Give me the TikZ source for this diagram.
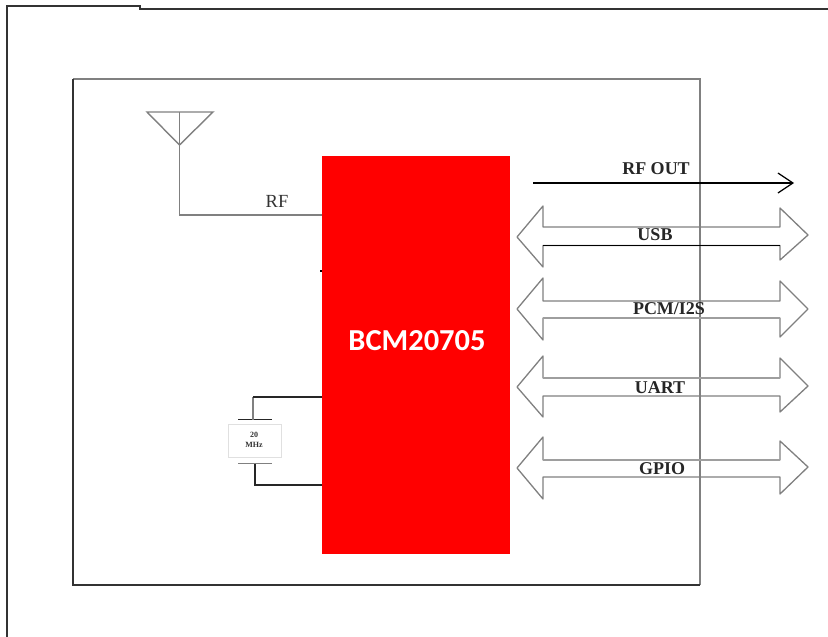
\documentclass[tikz,border=0pt]{standalone}
\usepackage{fontspec}
\setmainfont{Liberation Serif}
\newfontfamily\chipfont{Carlito}
\usetikzlibrary{arrows.meta}
\definecolor{linedark}{gray}{0.2}
\definecolor{linemid}{gray}{0.5}
\definecolor{linelight}{gray}{0.62}
\tikzset{
  x=1pt,y=-1pt,
  frameline/.style={draw=linedark,line width=2pt},
  frametwo/.style={draw=linemid,line width=1.8pt},
  wire/.style={draw=black!85,line width=1.6pt},
  thinwire/.style={draw=linemid,line width=1.4pt},
  busline/.style={draw=linemid,line width=1.3pt,line join=round},
  lab/.style={inner sep=0pt,font=\fontsize{18.5}{18}\selectfont,text=black!80},
  labbold/.style={inner sep=0pt,font=\fontsize{18}{18}\selectfont\bfseries,text=black!85},
}
\newcommand{\busarrow}[8]{%
  \draw[busline] (543,#1) -- (517,#2) -- (543,#3) -- (543,#5) -- (780,#5)
     -- (780,#8) -- (808,#7) -- (780,#6) -- (780,#4) -- (543,#4) -- cycle;}
\begin{document}
\begin{tikzpicture}
\useasboundingbox (0,0) rectangle (828,637);
\fill[white] (0,0) rectangle (828,637);
% outer frame
\coordinate (fa) at (7,637); \coordinate (fb) at (7,6); \coordinate (fc) at (140,6);
\coordinate (fd) at (140,8.5); \coordinate (fe) at (828,8.5);
\draw[frameline] (fa) -- (fb) -- (fc) -- (fd) -- (fe);
% board
\coordinate (ba) at (73,79); \coordinate (bb) at (700,79);
\coordinate (bc) at (700,585); \coordinate (bd) at (73,585);
\draw[frametwo] (ba) -- (bb) -- (bc);
\draw[frameline] (bc) -- (bd) -- (ba);
% chip
\node[fill=red,minimum width=188pt,minimum height=398pt,inner sep=0pt,outer sep=0pt,anchor=north west] (chip) at (322,156) {};
\node[text=white,inner sep=0pt,font=\chipfont\bfseries\fontsize{30.5}{30}\selectfont] (chipname) at (417,341) {BCM20705};
% antenna
\coordinate (anta) at (147,112); \coordinate (antb) at (213,112);
\coordinate (antc) at (179.5,145); \coordinate (antt) at (179.5,112);
\coordinate (antk) at (179.5,215);
\draw[thinwire] (anta) -- (antb) -- (antc) -- cycle;
\draw[thinwire] (antt) -- (antk) -- (antk -| chip.west);
\node[lab] (rf) at (277,201) {RF};
% tick on chip
\coordinate (tick) at (320,271);
\draw[black,line width=1.2pt] (tick) -- (tick -| chip.west);
% crystal
\node[draw=black!12,line width=1pt,fill=white,minimum width=53pt,minimum height=33pt,inner sep=0pt] (xtal) at (254.5,440.5) {};
\node[inner sep=0pt,align=center,text=black!80,font=\fontsize{8}{9.5}\selectfont\bfseries] (xtaltext) at (254,440) {20\\MHz};
\coordinate (pta) at (238,419.5); \coordinate (ptb) at (272,419.5);
\coordinate (pbl) at (238,463.5); \coordinate (pbb) at (272,463.5);
\coordinate (wt) at (253,419.5); \coordinate (wtc) at (253,397);
\coordinate (wb) at (255,463.5); \coordinate (wbc) at (255,485);
\draw[wire] (pta) -- (ptb);
\draw[thinwire] (pbl) -- (pbb);
\draw[thinwire] (wt) -- (wtc);
\draw[wire] (wtc) -- (wtc -| chip.west);
\draw[wire] (wb) -- (wbc) -- (wbc -| chip.west);
% RF OUT
\coordinate (outa) at (533,183); \coordinate (outb) at (794,183);
\draw[black,line width=1.5pt,-{Straight Barb[length=15pt,width=20pt,line width=1.2pt]}] (outa) -- (outb);
\node[labbold] (rfout) at (656,169) {RF OUT};
% buses: topL tip botL shaftT shaftB topR tipR botR
\busarrow{206}{237}{267}{227}{245.5}{208}{235}{260}
\draw[black,line width=1.4pt] (543,245.5) -- (780,245.5);
\busarrow{278}{309}{340}{301}{318}{281}{309}{337}
\draw[linelight,line width=2.2pt] (543,318) -- (780,318);
\busarrow{356}{387}{417}{378}{396}{358}{386}{412}
\draw[linelight,line width=2.2pt] (543,378) -- (780,378);
\busarrow{437}{468}{499}{460}{477}{441}{467}{494}
\draw[linelight,line width=2.2pt] (543,460) -- (780,460);
\node[labbold] (usb) at (655,235) {USB};
\node[labbold] (pcm) at (669,309) {PCM/I2S};
\node[labbold] (uart) at (660,387.5) {UART};
\node[labbold] (gpio) at (662,469) {GPIO};
\end{tikzpicture}
\end{document}
